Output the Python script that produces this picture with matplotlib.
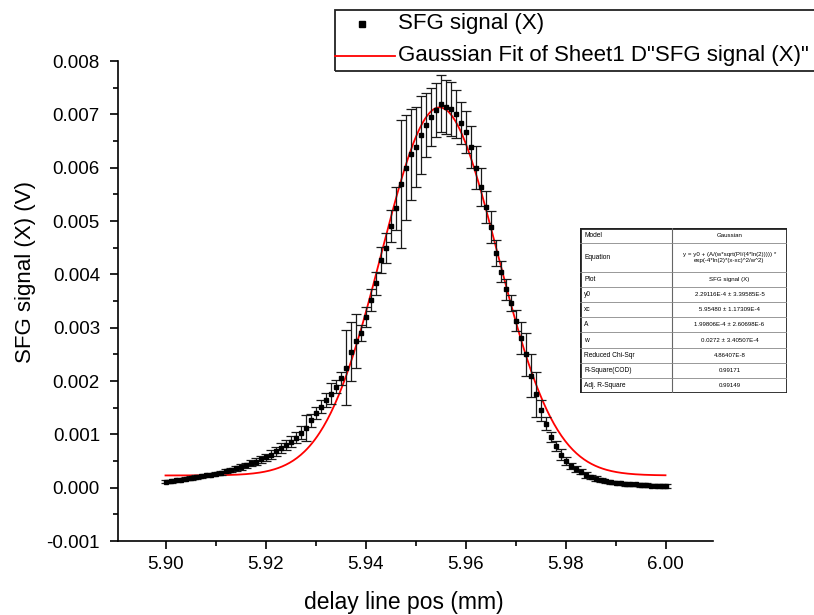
import numpy as np
import matplotlib
matplotlib.use('Agg')
import matplotlib.pyplot as plt
from matplotlib.patches import Rectangle
from matplotlib.lines import Line2D
from matplotlib.ticker import MultipleLocator, FormatStrFormatter

# delay line positions (mm), 0.001 mm steps from 5.900 to 6.000
x_start = 5.900
x_step = 0.001
# SFG signal (V)
sfg = [
    0.00011, 0.00012, 0.00014, 0.00015, 0.00017, 0.00018, 0.00020, 0.00021, 0.00023, 0.00024,
    0.00026, 0.00028, 0.00031, 0.00033, 0.00036, 0.00039, 0.00042, 0.00046, 0.00049, 0.00053,
    0.00057, 0.00062, 0.00068, 0.00074, 0.00080, 0.00086, 0.00094, 0.00103, 0.00112, 0.00126,
    0.00140, 0.00152, 0.00164, 0.00176, 0.00189, 0.00205, 0.00225, 0.00255, 0.00275, 0.00290,
    0.00320, 0.00352, 0.00383, 0.00427, 0.00450, 0.00490, 0.00524, 0.00570, 0.00600, 0.00625,
    0.00639, 0.00662, 0.00680, 0.00695, 0.00708, 0.00720, 0.00714, 0.00710, 0.00700, 0.00684,
    0.00667, 0.00639, 0.00600, 0.00564, 0.00526, 0.00489, 0.00440, 0.00405, 0.00372, 0.00346,
    0.00313, 0.00280, 0.00250, 0.00210, 0.00175, 0.00145, 0.00120, 0.00095, 0.00078, 0.00062,
    0.00050, 0.00041, 0.00035, 0.00030, 0.00024, 0.00020, 0.00017, 0.00014, 0.00012, 0.00010,
    0.00009, 0.00008, 0.00007, 0.00006, 0.00006, 0.00005, 0.00005, 0.00004, 0.00004, 0.00003,
    0.00003,
]
sfg_err = [
    0.00003, 0.00003, 0.00003, 0.00003, 0.00003, 0.00003, 0.00003, 0.00003, 0.00003, 0.00003,
    0.00003, 0.00004, 0.00004, 0.00004, 0.00005, 0.00005, 0.00005, 0.00006, 0.00006, 0.00006,
    0.00007, 0.00008, 0.00008, 0.00009, 0.00010, 0.00010, 0.00011, 0.00012, 0.00025, 0.00012,
    0.00012, 0.00012, 0.00013, 0.00020, 0.00012, 0.00012, 0.00070, 0.00055, 0.00050, 0.00015,
    0.00018, 0.00020, 0.00022, 0.00025, 0.00028, 0.00030, 0.00040, 0.00120, 0.00098, 0.00085,
    0.00075, 0.00073, 0.00060, 0.00055, 0.00050, 0.00053, 0.00050, 0.00050, 0.00045, 0.00040,
    0.00040, 0.00040, 0.00040, 0.00035, 0.00030, 0.00030, 0.00025, 0.00020, 0.00020, 0.00015,
    0.00020, 0.00030, 0.00040, 0.00040, 0.00042, 0.00020, 0.00012, 0.00010, 0.00010, 0.00010,
    0.00008, 0.00006, 0.00006, 0.00005, 0.00005, 0.00004, 0.00004, 0.00004, 0.00003, 0.00003,
    0.00003, 0.00003, 0.00003, 0.00003, 0.00003, 0.00003, 0.00003, 0.00003, 0.00003, 0.00003,
    0.00003,
]

# Gaussian fit parameters (Origin)
y0 = 2.29e-4
xc = 5.9548
w = 0.0272
A = 1.998e-4

table_keys = ['Model', 'Equation', 'Plot', 'y0', 'xc', 'A', 'w',
              'Reduced Chi-Sqr', 'R-Square(COD)', 'Adj. R-Square']
table_vals = ['Gaussian',
              'y = y0 + (A/(w*sqrt(PI/(4*ln(2))))) *\nexp(-4*ln(2)*(x-xc)^2/w^2)',
              'SFG signal (X)',
              '2.29116E-4 \u00b1 3.39585E-5',
              '5.95480 \u00b1 1.17309E-4',
              '1.99806E-4 \u00b1 2.60698E-6',
              '0.0272 \u00b1 3.40507E-4',
              '4.86407E-8',
              '0.99171',
              '0.99149']

plt.rcParams['font.family'] = ['Liberation Sans', 'DejaVu Sans']

x = x_start + x_step * np.arange(len(sfg))
xf = np.linspace(5.90, 6.00, 400)
yf = y0 + (A / (w * np.sqrt(np.pi / (4 * np.log(2))))) * np.exp(-4 * np.log(2) * (xf - xc) ** 2 / w ** 2)

W, H = 814, 615
fig = plt.figure(figsize=(W / 100, H / 100), dpi=100)
ax = fig.add_axes([118 / W, 1 - 541 / H, (713 - 118) / W, (541 - 61) / H])

ax.plot(xf, yf, color='red', lw=1.3, zorder=2)
ax.errorbar(x, sfg, yerr=sfg_err, fmt='s', color='black', ms=3.2, ecolor='#1a1a1a',
            elinewidth=0.9, capsize=3.5, capthick=0.9, zorder=3)

ax.set_xlim(5.8905, 6.0095)
ax.set_ylim(-0.001, 0.008)
ax.xaxis.set_major_locator(MultipleLocator(0.02))
ax.xaxis.set_minor_locator(MultipleLocator(0.01))
ax.yaxis.set_major_locator(MultipleLocator(0.001))
ax.yaxis.set_minor_locator(MultipleLocator(0.0005))
ax.xaxis.set_major_formatter(FormatStrFormatter('%.2f'))
ax.yaxis.set_major_formatter(FormatStrFormatter('%.3f'))
for s in ['top', 'right']:
    ax.spines[s].set_visible(False)
for s in ['left', 'bottom']:
    ax.spines[s].set_linewidth(1.2)
ax.tick_params(which='major', direction='out', length=6, width=1.2, labelsize=13.5)
ax.tick_params(axis='y', pad=7)
ax.tick_params(axis='x', pad=5)
ax.tick_params(which='minor', direction='out', length=3.5, width=1.2)
ax.set_xlabel('delay line pos (mm)', fontsize=16.5, labelpad=10)
ax.xaxis.set_label_coords(0.48, -0.105)
ax.set_ylabel('SFG signal (X) (V)', fontsize=16, labelpad=10)
ax.yaxis.set_label_coords(-0.138, 0.56)

# legend box (runs off the right edge like the original)
lx0, ly0, lx1, ly1 = 335, 10, 830, 71
fig.patches.append(Rectangle((lx0 / W, 1 - ly1 / H), (lx1 - lx0) / W, (ly1 - ly0) / H,
                             transform=fig.transFigure, fill=False, ec='#222222', lw=1.3))
fig.lines.append(Line2D([362 / W], [1 - 24 / H], transform=fig.transFigure, marker='s',
                        ms=4, color='black', ls='none'))
fig.lines.append(Line2D([335 / W, 395 / W], [1 - 56 / H, 1 - 56 / H], transform=fig.transFigure,
                        color='red', lw=1.3))
fig.text(398 / W, 1 - 24 / H, 'SFG signal (X)', fontsize=16, va='center', ha='left')
fig.text(398 / W, 1 - 56 / H, 'Gaussian Fit of Sheet1 D"SFG signal (X)"', fontsize=16,
         va='center', ha='left')

# fit results table
tx0, ty0, tx1, ty1 = 580, 228, 787, 393
tax = fig.add_axes([tx0 / W, 1 - ty1 / H, (tx1 - tx0) / W, (ty1 - ty0) / H])
tax.set_xlim(0, 1)
row_h = [1, 1.9, 1, 1, 1, 1, 1, 1, 1, 1]
total = sum(row_h)
tax.set_ylim(total, 0)
tax.set_axis_off()
tax.add_patch(Rectangle((0, 0), 1, total, fill=True, fc='white', ec='#222222', lw=2.0))
split = 0.444
tax.plot([split, split], [0, total], color='#666666', lw=0.8)
top = 0
for key, val, h in zip(table_keys, table_vals, row_h):
    if top > 0:
        tax.plot([0, 1], [top, top], color='#888888', lw=0.6)
    tax.text(0.02, top + h / 2, key, fontsize=4.8, va='center', ha='left')
    tax.text((split + 1) / 2, top + h / 2, val, fontsize=4.4, va='center', ha='center',
             linespacing=1.2)
    top += h

fig.savefig('out.png', dpi=100)
